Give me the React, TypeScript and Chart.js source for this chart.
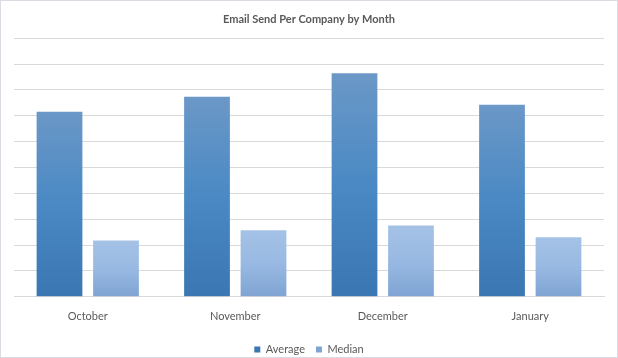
import React, { useEffect, useRef } from "react";
import { Chart, registerables } from "chart.js";

Chart.register(...registerables);

const months = ["October", "November", "December", "January"];
const averageValues = [7.16, 7.74, 8.64, 7.43];
const medianValues = [2.18, 2.57, 2.76, 2.3];
const titleText = "Email Send Per Company by Month";

function barGradient(top: string, mid: string, bottom: string) {
  return (ctx: any) => {
    const chart = ctx.chart;
    const y = chart.scales && chart.scales.y;
    if (!chart.chartArea || !y || ctx.type !== "data") return bottom;
    const v = ctx.raw as number;
    const yTop = y.getPixelForValue(v);
    const yBot = y.getPixelForValue(0);
    const g = chart.ctx.createLinearGradient(0, yTop, 0, yBot);
    g.addColorStop(0, top);
    g.addColorStop(0.5, mid);
    g.addColorStop(1, bottom);
    return g;
  };
}

const LEGEND_SHRINK = 7;

const legendTightPlugin = {
  id: "legendTight",
  beforeLayout(chart: any) {
    const legend = chart.legend;
    if (!legend || legend.__patched) return;
    legend.__patched = true;
    const origFit = legend.fit.bind(legend);
    legend.fit = function () {
      origFit();
      this.height -= LEGEND_SHRINK;
    };
    const origDraw = legend.draw.bind(legend);
    legend.draw = function () {
      const c = chart.ctx;
      c.save();
      c.translate(0, -LEGEND_SHRINK);
      origDraw();
      c.restore();
    };
  },
};

export default function App() {
  const ref = useRef<HTMLCanvasElement>(null);
  useEffect(() => {
    document.body.style.margin = "0";
    const font = "Lato, 'Open Sans', sans-serif";
    const chart = new Chart(ref.current!, {
      type: "bar",
      data: {
        labels: months,
        datasets: [
          {
            label: "Average",
            data: averageValues,
            backgroundColor: barGradient("#6b98c7", "#4a89c4", "#3a76b2"),
            categoryPercentage: 0.766,
            barPercentage: 0.81,
          },
          {
            label: "Median",
            data: medianValues,
            backgroundColor: barGradient("#a5c2e6", "#98b9e2", "#7fa4d3"),
            categoryPercentage: 0.766,
            barPercentage: 0.81,
          },
        ],
      },
      options: {
        animation: false,
        responsive: false,
        maintainAspectRatio: false,
        layout: { padding: { left: 13, right: 13, top: 0, bottom: -8 } },
        plugins: {
          title: {
            display: true,
            text: titleText,
            color: "#595959",
            font: { family: font, size: 11, weight: "bold" },
            padding: { top: 12, bottom: 12 },
          },
          legend: {
            position: "bottom",
            labels: {
              boxWidth: 6,
              boxHeight: 6,
              color: "#595959",
              font: { family: font, size: 11 },
              padding: 11,
            },
          },
          tooltip: { enabled: false },
        },
        scales: {
          x: {
            grid: { display: false, drawTicks: false },
            border: { display: true, color: "#d9d9d9", width: 1 },
            ticks: {
              color: "#595959",
              font: { family: font, size: 11 },
              padding: 13,
            },
            afterFit: (scale: any) => {
              scale.height += 4;
            },
          },
          y: {
            min: 0,
            max: 10,
            ticks: { display: false, stepSize: 1 },
            grid: { color: "#d9d9d9", drawTicks: false },
            border: { display: false },
          },
        },
      },
      plugins: [legendTightPlugin],
    });
    return () => chart.destroy();
  }, []);
  return (
    <div
      style={{
        width: 618,
        height: 358,
        boxSizing: "border-box",
        border: "1px solid #d9dde3",
        background: "#fff",
      }}
    >
      <canvas ref={ref} width={616} height={356} style={{ display: "block" }} />
    </div>
  );
}
